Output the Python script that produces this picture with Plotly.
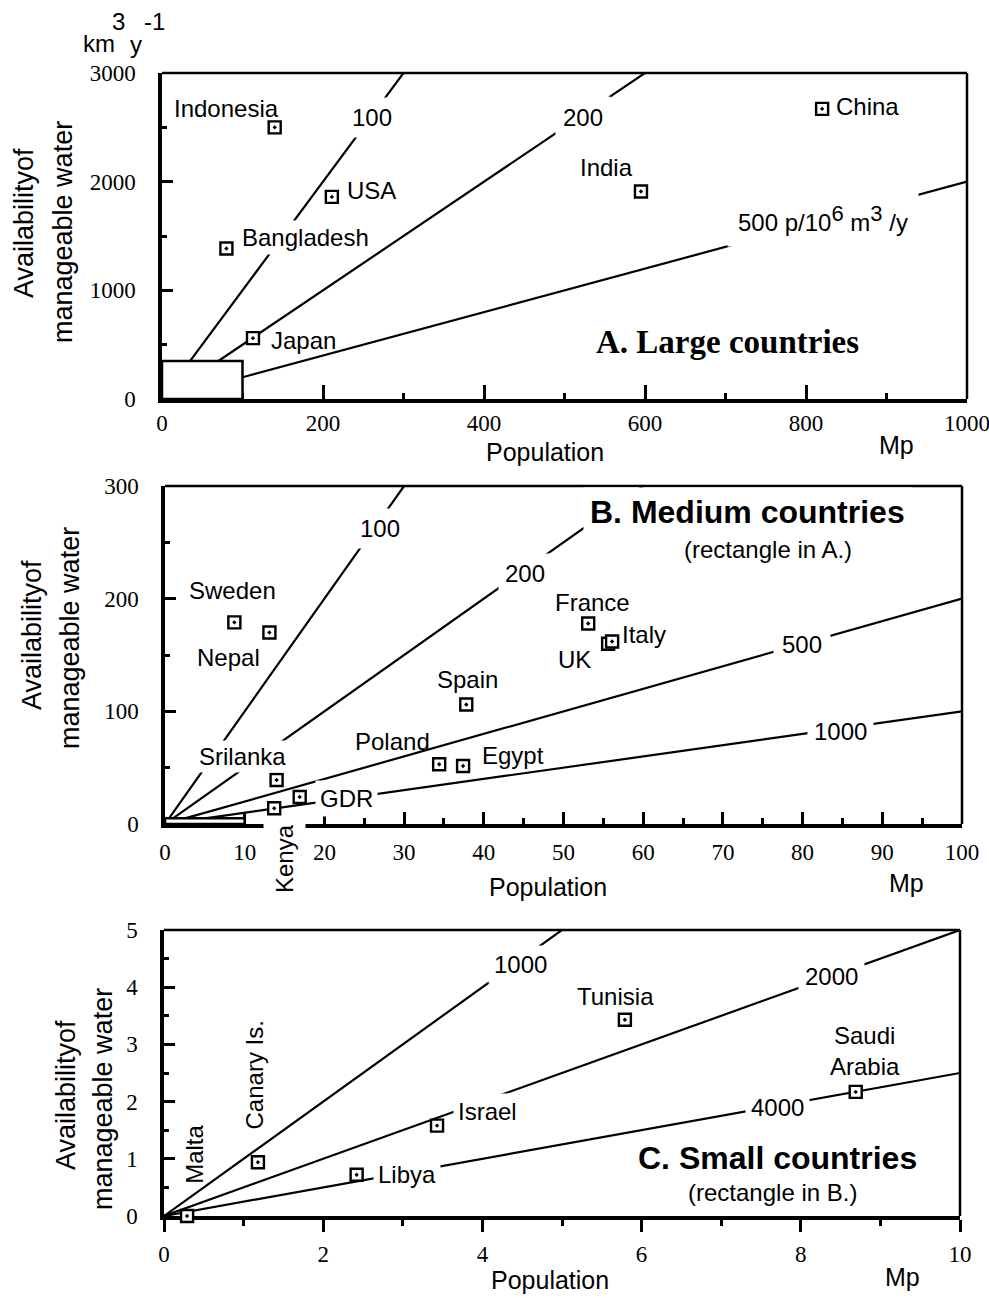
import plotly.graph_objects as go

# Figure size in pixels
FIG_W, FIG_H = 989, 1298

# ---------------- Panel A: large countries ----------------
# population (Mp) and manageable water (km3 per year)
a_names = ["Indonesia", "USA", "Bangladesh", "Japan", "India", "China"]
a_pop = [140, 211, 80, 113, 595, 820]
a_water = [2500, 1860, 1385, 560, 1910, 2670]
a_ratios = [100, 200, 500]          # persons per 10^6 m3 per year
a_inset = (100, 350)                # rectangle shown enlarged in panel B

# ---------------- Panel B: medium countries ----------------
b_names = ["Sweden", "Nepal", "Srilanka", "Kenya", "GDR", "Poland",
           "Egypt", "Spain", "France", "UK", "Italy"]
b_pop = [8.7, 13.1, 14.0, 13.7, 16.9, 34.4, 37.4, 37.8, 53.1, 55.6, 56.1]
b_water = [179, 170, 39, 14, 24, 53, 51.5, 106, 178, 160, 162]
b_ratios = [100, 200, 500, 1000]
b_inset = (10, 5)                   # rectangle shown enlarged in panel C

# ---------------- Panel C: small countries ----------------
c_names = ["Malta", "Canary Is.", "Libya", "Israel", "Tunisia", "Saudi Arabia"]
c_pop = [0.29, 1.18, 2.42, 3.43, 5.79, 8.69]
c_water = [0.0, 0.94, 0.72, 1.58, 3.43, 2.17]
c_ratios = [1000, 2000, 4000]

# axis ranges
a_xmax, a_ymax = 1000, 3000
b_xmax, b_ymax = 100, 300
c_xmax, c_ymax = 10, 5

SANS = "Liberation Sans, Arial, sans-serif"
SERIF = "Liberation Serif, Times New Roman, serif"
BLACK = "#000000"


def dom_x(x0, x1):
    return [x0 / FIG_W, x1 / FIG_W]


def dom_y(top, bottom):
    return [1 - bottom / FIG_H, 1 - top / FIG_H]


def px(x):
    return x / FIG_W


def py(y):
    return 1 - y / FIG_H


def water_for(pop, ratio):
    # km3/y needed so that `ratio` persons share 10^6 m3/y
    return 1000.0 * pop / ratio


fig = go.Figure()


def add_ratio_lines(ratios, inset, pmax, xa, ya):
    for r in ratios:
        if inset is None:
            p0 = 0.0
        else:
            p0 = min(inset[0], inset[1] * r / 1000.0)
        xs = [p0, pmax]
        ys = [water_for(p0, r), water_for(pmax, r)]
        fig.add_trace(go.Scatter(x=xs, y=ys, mode="lines", xaxis=xa, yaxis=ya,
                                 line=dict(color=BLACK, width=2.2),
                                 hoverinfo="skip", showlegend=False))


def add_points(names, pops, waters, xa, ya):
    fig.add_trace(go.Scatter(x=pops, y=waters, mode="markers", xaxis=xa, yaxis=ya,
                             text=names, showlegend=False,
                             marker=dict(symbol="square-dot", size=12, color="white",
                                         line=dict(color=BLACK, width=2.4)),
                             cliponaxis=False))


add_ratio_lines(a_ratios, a_inset, a_xmax, "x", "y")
add_ratio_lines(b_ratios, b_inset, b_xmax, "x2", "y2")
add_ratio_lines(c_ratios, None, c_xmax, "x3", "y3")
add_points(a_names, a_pop, a_water, "x", "y")
add_points(b_names, b_pop, b_water, "x2", "y2")
add_points(c_names, c_pop, c_water, "x3", "y3")


def xaxis_cfg(domain, rng, dtick, minor_dtick, anchor, ticks="inside", ticklen=13,
              standoff=3):
    return dict(domain=domain, range=rng, anchor=anchor, dtick=dtick, tick0=0,
                automargin=False, layer="below traces", ticklabeloverflow="allow",
                showline=True, linecolor=BLACK, linewidth=3.5, mirror=False,
                showgrid=False, zeroline=False, ticks=ticks, ticklen=ticklen,
                tickwidth=2.5, tickcolor=BLACK, ticklabelstandoff=standoff,
                tickfont=dict(family=SERIF, size=23, color=BLACK),
                minor=dict(ticks=ticks, ticklen=6, tickwidth=2.5, tickcolor=BLACK,
                           dtick=minor_dtick, tick0=0, showgrid=False),
                fixedrange=True)


def yaxis_cfg(domain, rng, dtick, minor_dtick, anchor):
    return dict(domain=domain, range=rng, anchor=anchor, dtick=dtick, tick0=0,
                automargin=False, layer="below traces",
                showline=True, linecolor=BLACK, linewidth=3.5, mirror=False,
                showgrid=False, zeroline=False, ticks="inside", ticklen=11,
                tickwidth=2.5, tickcolor=BLACK, ticklabelstandoff=18,
                tickfont=dict(family=SERIF, size=23, color=BLACK),
                minor=dict(ticks="inside", ticklen=5, tickwidth=2.5, tickcolor=BLACK,
                           dtick=minor_dtick, tick0=0, showgrid=False),
                fixedrange=True)


fig.update_layout(
    template="none",
    width=FIG_W, height=FIG_H,
    autosize=False,
    margin=dict(l=0, r=0, t=0, b=0, pad=0),
    paper_bgcolor="white", plot_bgcolor="white",
    showlegend=False,
    xaxis=xaxis_cfg(dom_x(162, 967), [0, a_xmax], 200, 100, "y", ticklen=14, standoff=1),
    yaxis=yaxis_cfg(dom_y(73, 399), [0, a_ymax], 1000, 500, "x"),
    xaxis2=xaxis_cfg(dom_x(165, 962), [0, b_xmax], 10, 5, "y2", ticklen=12, standoff=5),
    yaxis2=yaxis_cfg(dom_y(486, 824), [0, b_ymax], 100, 50, "x2"),
    xaxis3=xaxis_cfg(dom_x(164, 960), [0, c_xmax], 2, 1, "y3", ticks="outside",
                     ticklen=12, standoff=3),
    yaxis3=yaxis_cfg(dom_y(930, 1216), [0, c_ymax], 1, 0.5, "x3"),
)

shapes = []
# top and right frame edges (thinner than the axis lines)
for xa, ya in [("x", "y"), ("x2", "y2"), ("x3", "y3")]:
    shapes.append(dict(type="line", xref=f"{xa} domain", yref=f"{ya} domain",
                       x0=0, x1=1, y0=1, y1=1, line=dict(color=BLACK, width=2.5),
                       layer="above"))
    shapes.append(dict(type="line", xref=f"{xa} domain", yref=f"{ya} domain",
                       x0=1, x1=1, y0=0, y1=1, line=dict(color=BLACK, width=2.5),
                       layer="above"))
# enlarged-area rectangles
shapes.append(dict(type="rect", xref="x", yref="y", x0=0, y0=0, x1=a_inset[0], y1=a_inset[1],
                   fillcolor="white", line=dict(color=BLACK, width=2.5), layer="above"))
shapes.append(dict(type="rect", xref="x2", yref="y2", x0=0, y0=0, x1=b_inset[0], y1=b_inset[1],
                   fillcolor="white", line=dict(color=BLACK, width=2.5), layer="above"))
fig.update_layout(shapes=shapes)

ann = []


def label(text, x, y, xref, yref, size=24, bg=False, pad=3, angle=0, family=SANS,
          xanchor="center", yanchor="middle", weight="normal"):
    d = dict(text=text, x=x, y=y, xref=xref, yref=yref, showarrow=False,
             font=dict(family=family, size=size, color=BLACK, weight=weight),
             xanchor=xanchor, yanchor=yanchor, textangle=angle)
    if bg:
        d.update(bgcolor="white", borderpad=pad)
    ann.append(d)


def sup(s):
    return f"<sup><span style='font-size:22px'>{s}</span></sup>"


# Panel A labels
label("Indonesia", 80, 2670, "x", "y")
label("100", 261, 2595, "x", "y", bg=True, pad=6)
label("USA", 260, 1915, "x", "y")
label("Bangladesh", 178, 1490, "x", "y", bg=True, pad=3)
label("Japan", 176, 535, "x", "y")
label("200", 523, 2595, "x", "y", bg=True, pad=7)
label("India", 552, 2126, "x", "y")
label("China", 876, 2696, "x", "y")
label("500 p/10" + sup("6") + " m" + sup("3") + " /y", 821, 1665, "x", "y", bg=True, pad=10)

# Panel B labels
label("100", 27, 262, "x2", "y2", bg=True, pad=6)
label("Sweden", 8.5, 207, "x2", "y2")
label("Nepal", 8.0, 148, "x2", "y2")
label("Srilanka", 9.7, 59.5, "x2", "y2", bg=True, pad=2)
label("GDR", 22.8, 23, "x2", "y2", bg=True, pad=4)
label("Poland", 28.6, 73, "x2", "y2")
label("200", 45.2, 222, "x2", "y2", bg=True, pad=6)
label("France", 53.6, 197, "x2", "y2")
label("Italy", 60.1, 168, "x2", "y2")
label("UK", 51.4, 146, "x2", "y2")
label("Spain", 37.9, 128, "x2", "y2")
label("Egypt", 43.7, 61, "x2", "y2")
label("500", 79.9, 159, "x2", "y2", bg=True, pad=8)
label("1000", 84.7, 81.7, "x2", "y2", bg=True, pad=6)
# Kenya sits below the axis, so it is placed in page coordinates
label("Kenya", px(284), py(859), "paper", "paper", bg=True, pad=7, angle=-90)

# Panel C labels
label("Malta", 0.39, 1.07, "x3", "y3", angle=-90)
label("Canary Is.", 1.14, 2.47, "x3", "y3", angle=-90)
label("Libya", 3.05, 0.72, "x3", "y3", bg=True, pad=4)
label("Israel", 4.06, 1.82, "x3", "y3", bg=True, pad=4)
label("1000", 4.48, 4.39, "x3", "y3", bg=True, pad=5)
label("Tunisia", 5.67, 3.83, "x3", "y3")
label("2000", 8.39, 4.18, "x3", "y3", bg=True, pad=6)
label("Saudi<br>Arabia", 8.81, 2.88, "x3", "y3")
label("4000", 7.71, 1.89, "x3", "y3", bg=True, pad=5)

# Panel titles
label("A. Large countries", px(727), py(342), "paper", "paper", size=33,
      family=SERIF, weight="bold")
label("B. Medium countries", px(747), py(512), "paper", "paper", size=32, weight="bold",
      bg=True, pad=6)
label("(rectangle in A.)", px(768), py(549), "paper", "paper", size=24)
label("C. Small countries", px(777), py(1158), "paper", "paper", size=32, weight="bold")
label("(rectangle in B.)", px(772), py(1192), "paper", "paper", size=24)

# Axis titles and units
for cx1, cx2, cy1, cy2 in [(24, 63, 223, 232), (32, 70, 635, 638), (66, 103, 1095, 1099)]:
    label("Availabilityof", px(cx1), py(cy1), "paper", "paper", size=27, angle=-90)
    label("manageable water", px(cx2), py(cy2), "paper", "paper", size=27, angle=-90)

for cx, cy in [(545, 452), (548, 887), (550, 1280)]:
    label("Population", px(cx), py(cy), "paper", "paper", size=25)
for cx, cy in [(896, 445), (906, 883), (902, 1277)]:
    label("Mp", px(cx), py(cy), "paper", "paper", size=25)

label("km", px(99), py(43), "paper", "paper", size=24)
label("3", px(118), py(21), "paper", "paper", size=24)
label("y", px(136), py(44), "paper", "paper", size=24)
label("-1", px(154), py(21), "paper", "paper", size=24)

fig.update_layout(annotations=ann)

fig.write_html("out.html")
